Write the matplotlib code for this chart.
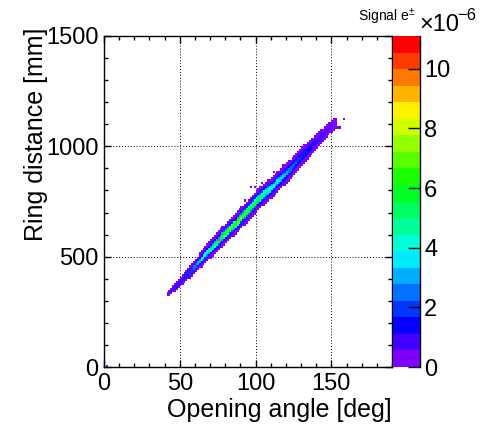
import numpy as np
import matplotlib
matplotlib.use("Agg")
import matplotlib.pyplot as plt
from matplotlib.colors import ListedColormap, BoundaryNorm, hsv_to_rgb
from matplotlib.ticker import MultipleLocator

plt.rcParams['font.family'] = ['Liberation Sans', 'DejaVu Sans']
plt.rcParams['mathtext.fontset'] = 'custom'
plt.rcParams['mathtext.rm'] = 'Liberation Sans'

# band of signal e+e- pairs: ridge position, content on the ridge and spread vs opening angle
knots_deg = [41, 46, 52, 58, 64, 70, 76, 82, 88, 94, 100, 106, 112, 118, 124, 130, 136, 142, 148, 154]
ridge_mm = [322, 355, 397, 438, 488, 530, 575, 617, 658, 700, 748, 785, 822, 862, 905, 950, 993, 1032, 1075, 1115]
peak_e6 = [0.3, 0.7, 1.4, 2.4, 3.8, 5.0, 6.0, 6.8, 7.2, 6.9, 6.3, 5.3, 4.3, 3.4, 2.6, 2.0, 1.5, 1.1, 0.7, 0.4]
halo_mm = [10, 12, 13, 14, 17, 18, 19, 20, 20, 21, 21, 22, 22, 23, 23, 23, 22, 22, 22, 22]

# single hot cells on the ridge
hot_deg = [75.4, 80.0, 83.0, 87.5, 91.0]
hot_mm = [571, 600, 624, 661, 680]
hot_e6 = [10.5, 7.5, 8.5, 10.8, 7.8]

# isolated filled cells around the band
stray_deg = [2.5, 92.6, 96.3, 99.6, 104.7, 111.3, 113.9, 118.7, 122.7, 131.5, 136.3,
             143.6, 148.4, 150.8, 154.1, 155.4, 157.7]
stray_mm = [10, 756, 816, 816, 839, 890, 879, 917, 925, 1003, 1020,
            1075, 1108, 1068, 1090, 1090, 1121]
stray_e6 = [0.3] * len(stray_deg)

zmax = 11.1
n_cont = 20

x_edges = np.arange(0, 190 + 1e-9, 1.25)
y_edges = np.arange(0, 1500 + 1e-9, 10)
xc = 0.5 * (x_edges[:-1] + x_edges[1:])
yc = 0.5 * (y_edges[:-1] + y_edges[1:])

ridge = np.interp(xc, knots_deg, ridge_mm)
peak = np.interp(xc, knots_deg, peak_e6, left=0, right=0)
sig_h = np.interp(xc, knots_deg, halo_mm)
sig_c = 0.55 * sig_h
d = yc[:, None] - ridge[None, :]
z = peak[None, :] * (0.75 * np.exp(-0.5 * (d / sig_c[None, :]) ** 2)
                     + 0.25 * np.exp(-0.5 * (d / sig_h[None, :]) ** 2))
z[z < 0.1] = 0
for dd, m, v in list(zip(hot_deg, hot_mm, hot_e6)) + list(zip(stray_deg, stray_mm, stray_e6)):
    i = np.searchsorted(x_edges, dd) - 1
    j = np.searchsorted(y_edges, m) - 1
    z[j, i] = max(z[j, i], v)
z = np.ma.masked_where(z <= 0, z)

hues = np.linspace(270, 0, n_cont) / 360.0
colors = hsv_to_rgb(np.column_stack([hues, np.ones(n_cont), np.ones(n_cont)]))
cmap = ListedColormap(colors)
levels = np.linspace(0, zmax, n_cont + 1)
norm = BoundaryNorm(levels, cmap.N)

fig = plt.figure(figsize=(4.87, 4.24), dpi=100)
ax = fig.add_axes([104 / 487, 57 / 424, 288 / 487, 331 / 424])
cax = fig.add_axes([393 / 487, 57 / 424, 27 / 487, 331 / 424])

mesh = ax.pcolormesh(x_edges, y_edges, z, cmap=cmap, norm=norm)

ax.set_xlim(0, 190)
ax.set_ylim(0, 1500)
ax.xaxis.set_major_locator(MultipleLocator(50))
ax.xaxis.set_minor_locator(MultipleLocator(10))
ax.yaxis.set_major_locator(MultipleLocator(500))
ax.yaxis.set_minor_locator(MultipleLocator(100))
ax.tick_params(which='both', direction='in', top=True, right=True, labelsize=17)
ax.tick_params(which='major', length=5, width=1, pad=4)
ax.tick_params(which='minor', length=2.6, width=1)
ax.grid(True, which='major', color='k', linestyle=(0, (1, 2)), linewidth=0.7)
ax.set_axisbelow(True)
for s in ax.spines.values():
    s.set_linewidth(1)

cb = fig.colorbar(mesh, cax=cax, ticks=[0, 2, 4, 6, 8, 10])
cb.outline.set_visible(False)
cax.minorticks_off()
cax.tick_params(direction='in', length=8.5, width=1, labelsize=17, pad=3)
cax.plot([1, 1], [0, 1], transform=cax.transAxes, color='k', lw=1, clip_on=False)

fig.text(415 / 487, 1 - 17 / 424, r'Signal e$^{\pm}$', ha='right', va='center', fontsize=10)
fig.text(419 / 487, 1 - 25 / 424, '×10', ha='left', va='center', fontsize=17)
fig.text(457 / 487, 1 - 15 / 424, '−6', ha='left', va='center', fontsize=12)

fig.text(392 / 487, 1 - 410 / 424, 'Opening angle [deg]', ha='right', va='center', fontsize=18)
fig.text(36 / 487, 1 - 28 / 424, 'Ring distance [mm]', ha='center', va='top', rotation=90, fontsize=18)

fig.savefig('out.png', dpi=100)
